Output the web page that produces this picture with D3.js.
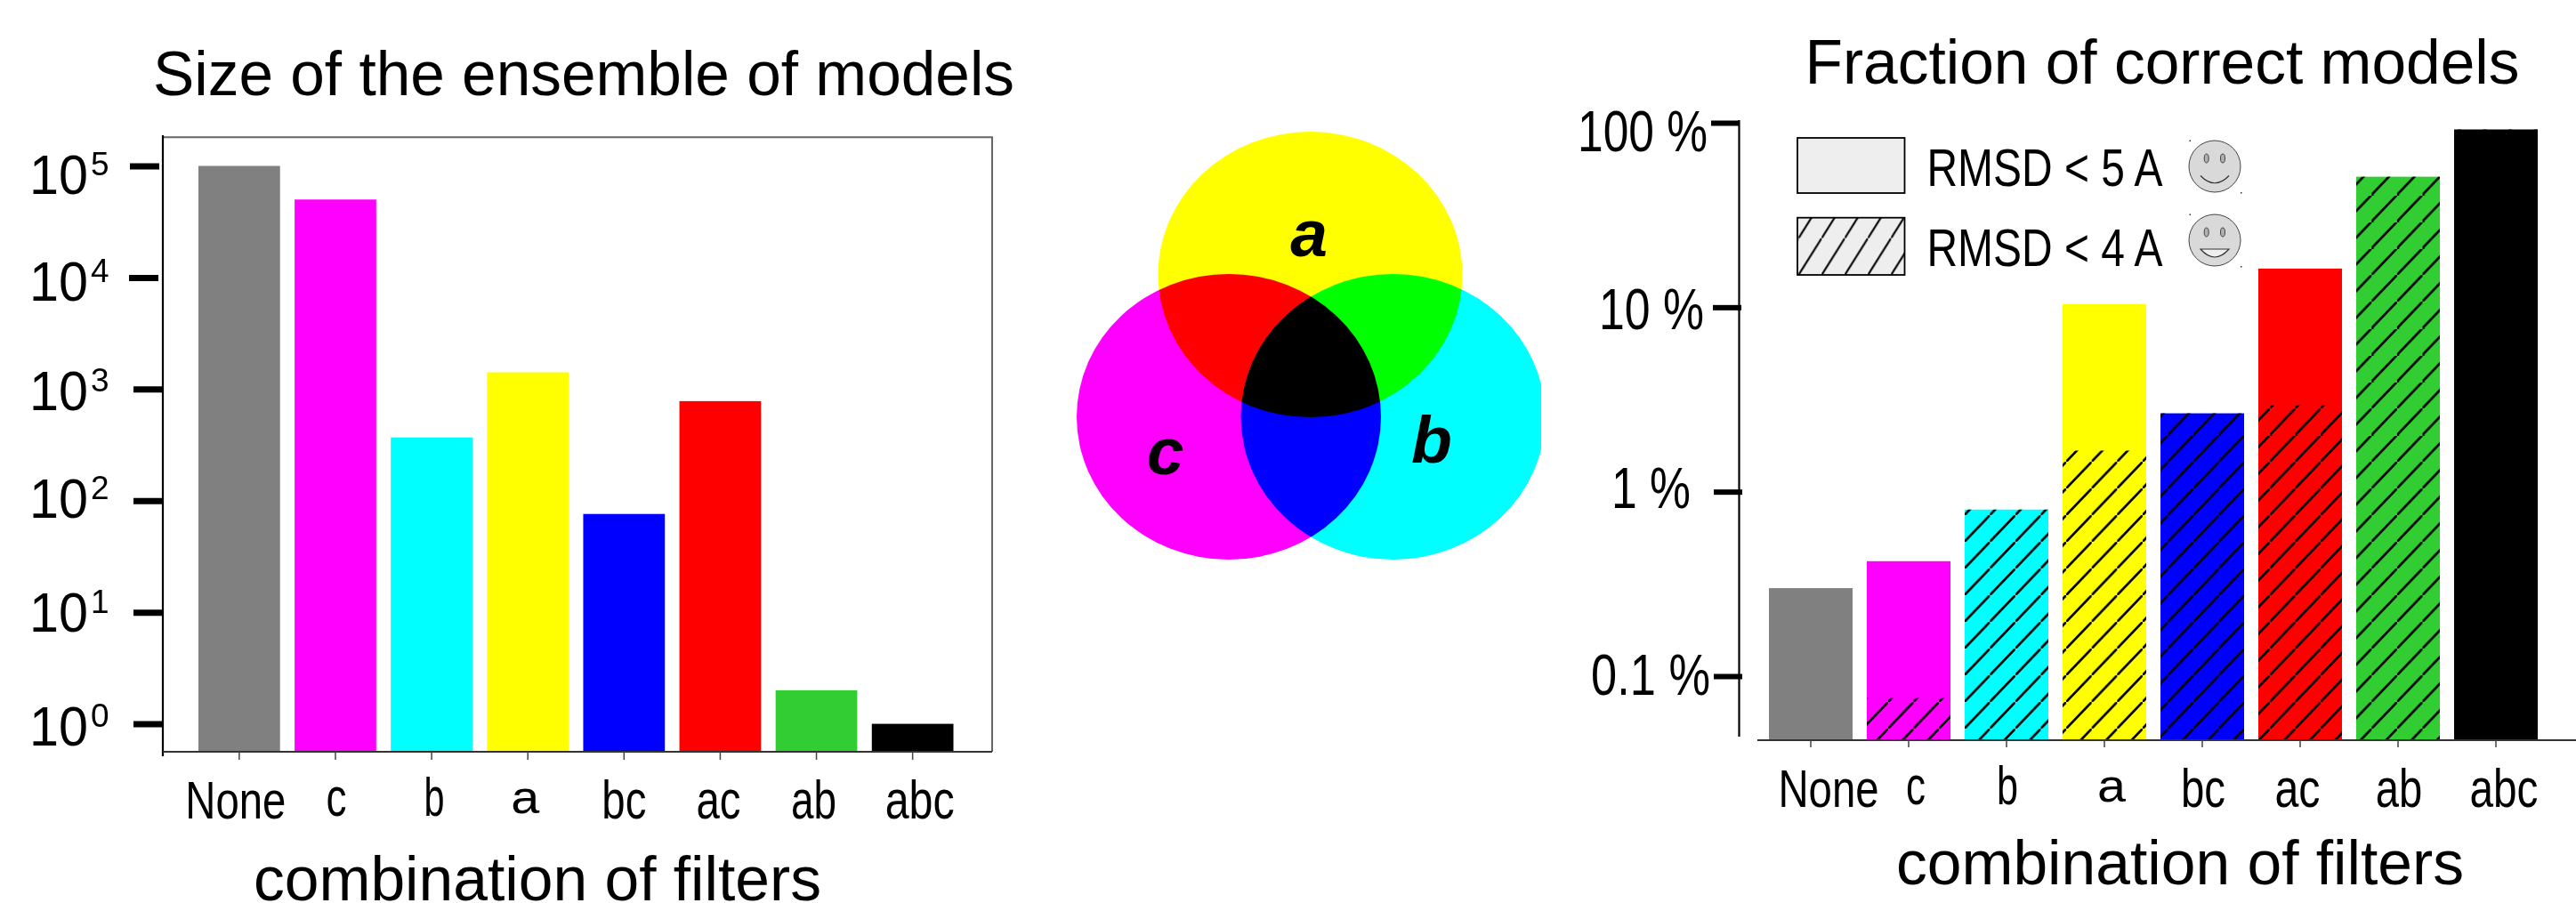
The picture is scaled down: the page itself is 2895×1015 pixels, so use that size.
<!DOCTYPE html>
<html><head><meta charset="utf-8">
<script src="https://cdn.jsdelivr.net/npm/d3@7"></script>
<style>html,body{margin:0;padding:0;background:#fff}svg{display:block}text{font-family:"Liberation Sans",Arial,sans-serif;fill:#000}</style>
</head><body><svg id="c" width="2895" height="1015"></svg>
<script>
const categories = ["None","c","b","a","bc","ac","ab","abc"];
const barColors = ["#808080","#ff00ff","#00ffff","#ffff00","#0000ff","#ff0000","#32cd32","#000000"];
const ensembleSize = [100000,50000,369,1413,76,780,2,1];
const fractionRmsd5 = [0.30,0.42,0.80,10.4,2.66,16.2,51,92];
const fractionRmsd4 = [null,0.076,0.80,1.67,2.66,2.94,51,92];
const sizeTicks = [1,10,100,1000,10000,100000];
const fractionTicks = [0.1,1,10,100];
const fractionTickLabels = ["0.1 %","1 %","10 %","100 %"];
const vennSets = ["a","c","b"];
const vennColors = ["#ffff00","#ff00ff","#00ffff"];
const legendLabels = ["RMSD < 5 A","RMSD < 4 A"];

const svg = d3.select("#c");
const defs = svg.append("defs");
function hatch(id,x0,y0,w,h,sw,bg){
  const p = defs.append("pattern").attr("id",id).attr("patternUnits","userSpaceOnUse")
    .attr("x",x0).attr("y",y0).attr("width",w).attr("height",h);
  if(bg) p.append("rect").attr("width",w).attr("height",h).attr("fill",bg);
  p.append("path").attr("d",`M${-w},${2*h}L${2*w},${-h}`).attr("stroke","#000").attr("stroke-width",sw).attr("fill","none");
}
hatch("barHatch",2207.7,579,28.6,30,2.6);
hatch("legendHatch",2021.3,267.7,26,41.3,2.2,"#eeeeee");

function label(g,t,cx,y,w,size,anchor){
  return g.append("text").attr("x",cx).attr("y",y).attr("text-anchor",anchor||"middle")
    .attr("font-size",size).attr("textLength",w).attr("lengthAdjust","spacingAndGlyphs").text(t);
}

/* ---------- left chart ---------- */
const L = svg.append("g");
const xL = d3.scaleBand().domain(categories).range([223,1071.5]).paddingInner(0.1516).paddingOuter(0);
const yL = d3.scaleLog().domain([1,100000]).range([813.6,186.5]);
const bottomL = 845;
label(L,"Size of the ensemble of models",656,107,968,70);
L.append("path").attr("d",`M183,154.3H1115V${bottomL}`).attr("fill","none").attr("stroke","#666").attr("stroke-width",2);
L.selectAll("rect.bar").data(categories).join("rect").attr("class","bar")
  .attr("x",d=>xL(d)).attr("width",xL.bandwidth())
  .attr("y",(d,i)=>yL(ensembleSize[i])).attr("height",(d,i)=>bottomL-yL(ensembleSize[i]))
  .attr("fill",(d,i)=>barColors[i]);
L.append("line").attr("x1",183).attr("x2",183).attr("y1",152).attr("y2",850).attr("stroke","#000").attr("stroke-width",2.2);
L.append("line").attr("x1",183).attr("x2",1115).attr("y1",bottomL).attr("y2",bottomL).attr("stroke","#333").attr("stroke-width",2);
const axYL = L.append("g").attr("transform","translate(183,0)")
  .call(d3.axisLeft(yL).tickValues(sizeTicks).tickSize(33).tickFormat(""));
axYL.select(".domain").remove();
const tickEndL = [0,0,0,0,-5,-4];
axYL.selectAll(".tick line").attr("stroke","#000").attr("stroke-width",7)
  .attr("x1",(d,i)=>tickEndL[i]).attr("x2",(d,i)=>tickEndL[i]-33);
const axXL = L.append("g").attr("transform",`translate(0,${bottomL})`)
  .call(d3.axisBottom(xL).tickSize(9).tickFormat(""));
axXL.select(".domain").remove();
axXL.selectAll(".tick line").attr("stroke","#444").attr("stroke-width",1.5);
const sizeLabelDy = [24.4,22,19.3,23.7,26.4,31.8];
sizeTicks.forEach((v,i)=>{
  const t = L.append("text").attr("x",33).attr("y",yL(v)+sizeLabelDy[i]).attr("font-size",63);
  t.append("tspan").attr("textLength",66).attr("lengthAdjust","spacingAndGlyphs").text("10");
  t.append("tspan").attr("dx",3).attr("dy",-21.5).attr("font-size",37).text(Math.round(Math.log10(v)));
});
const nudgeL = [-4,1,3,-3,0,-2,-3,8];
const widthL = [113,23,23,32,50,50,51,78];
const baseL = [919.5,916.5,916.5,914,920,920,920,920];
const sizeXL = [60,62,62,52,62,62,62,62];
categories.forEach((c,i)=>label(L,c,xL(c)+xL.bandwidth()/2+nudgeL[i],baseL[i],widthL[i],sizeXL[i]));
label(L,"combination of filters",604,1012,638,70);

/* ---------- venn ---------- */
const V = svg.append("g").style("isolation","isolate");
const vennClip = defs.append("clipPath").attr("id","vennClip");
vennClip.append("rect").attr("x",1180).attr("y",120).attr("width",552).attr("height",530);
const vennX = d3.scalePoint().domain(["c","a","b"]).range([1381,1565.5]);
const vennY = d3.scalePoint().domain(["a","c"]).range([308.6,468.5]);
V.append("g").attr("clip-path","url(#vennClip)").selectAll("ellipse").data(vennSets).join("ellipse")
  .attr("cx",d=>vennX(d)-(d==="a"?0.7:0))
  .attr("cy",d=>d==="a"?vennY("a"):vennY("c"))
  .attr("rx",171).attr("ry",160.5)
  .attr("fill",(d,i)=>vennColors[i])
  .style("mix-blend-mode","multiply");
const vennTextPos = {a:[1471,288],b:[1609,519.5],c:[1309.5,533]};
vennSets.forEach(s=>{
  svg.append("text").attr("x",vennTextPos[s][0]).attr("y",vennTextPos[s][1]).attr("text-anchor","middle")
    .attr("font-size",75).attr("font-weight","bold").attr("font-style","italic").text(s);
});

/* ---------- right chart ---------- */
const R = svg.append("g");
const xR = d3.scaleBand().domain(categories).range([1988,2852]).paddingInner(0.1455).paddingOuter(0);
const yR = d3.scaleLog().domain([0.1,100]).range([760,138]);
const bottomR = 832;
label(R,"Fraction of correct models",2430,94,803,70);
R.selectAll("rect.bar").data(categories).join("rect").attr("class","bar")
  .attr("x",d=>xR(d)).attr("width",xR.bandwidth())
  .attr("y",(d,i)=>yR(fractionRmsd5[i])).attr("height",(d,i)=>bottomR-yR(fractionRmsd5[i]))
  .attr("fill",(d,i)=>barColors[i]);
R.selectAll("rect.hatch").data(categories.filter((d,i)=>fractionRmsd4[i]!==null)).join("rect").attr("class","hatch")
  .attr("x",d=>xR(d)).attr("width",xR.bandwidth())
  .attr("y",d=>yR(fractionRmsd4[categories.indexOf(d)]))
  .attr("height",d=>bottomR-yR(fractionRmsd4[categories.indexOf(d)]))
  .attr("fill","url(#barHatch)");
R.append("line").attr("x1",1954.5).attr("x2",1954.5).attr("y1",135).attr("y2",828).attr("stroke","#000").attr("stroke-width",2.2);
R.append("line").attr("x1",1975).attr("x2",2895).attr("y1",bottomR).attr("y2",bottomR).attr("stroke","#333").attr("stroke-width",2);
const axYR = R.append("g").attr("transform","translate(1957,0)")
  .call(d3.axisLeft(yR).tickValues(fractionTicks).tickSize(31).tickFormat(""));
axYR.select(".domain").remove();
const tickEndR = [1,1,0,-2];
axYR.selectAll(".tick line").attr("stroke","#000").attr("stroke-width",6)
  .attr("x1",(d,i)=>tickEndR[i]).attr("x2",(d,i)=>tickEndR[i]-32);
const fracLabelRight = [1922,1900,1915,1919];
const fracLabelWidth = [134,89,118,146];
const fracLabelDy = [21,18.6,25,32];
fractionTicks.forEach((v,i)=>{
  label(R,fractionTickLabels[i],fracLabelRight[i],yR(v)+fracLabelDy[i],fracLabelWidth[i],64,"end");
});
const axXR = R.append("g").attr("transform",`translate(0,${bottomR})`)
  .call(d3.axisBottom(xR).tickSize(8).tickFormat(""));
axXR.select(".domain").remove();
axXR.selectAll(".tick line").attr("stroke","#444").attr("stroke-width",1.5);
const nudgeR = [20,8,1,8,1,-3,1,9];
const widthR = [113,22,24,32,50,51,52.5,77];
const baseR = [906.5,903.5,903.5,901,907,907,907,907];
categories.forEach((c,i)=>label(R,c,xR(c)+xR.bandwidth()/2+nudgeR[i],baseR[i],widthR[i],sizeXL[i]));
label(R,"combination of filters",2450,994,638,70);

/* ---------- legend ---------- */
const legendY = d3.scalePoint().domain(legendLabels).range([155,244.7]);
const legendH = [62,64.3];
legendLabels.forEach((t,i)=>{
  const y0 = legendY(t);
  R.append("rect").attr("x",2020).attr("y",y0).attr("width",120.5).attr("height",legendH[i])
    .attr("fill",i?"url(#legendHatch)":"#eeeeee").attr("stroke","#000").attr("stroke-width",1.8);
  label(R,t,2165.5,y0+(i?54.6:54),265,60,"start");
  const cy = y0+(i?25.3:32);
  const f = R.append("g").attr("transform",`translate(2489,${cy})`);
  f.append("circle").attr("r",29).attr("fill","#d9d9d9").attr("stroke","#444").attr("stroke-width",1);
  [-9.3,9].forEach(dx=>f.append("ellipse").attr("cx",dx).attr("cy",-9).attr("rx",2.5).attr("ry",5)
    .attr("fill","#b0b0b0").attr("stroke","#444").attr("stroke-width",1));
  f.append("path").attr("d",i?"M-16,10Q0,28 16,10Z":"M-16,10.5Q0,27 16,10.5")
    .attr("fill",i?"#eeeeee":"none").attr("stroke","#333").attr("stroke-width",1.2);
  [[-28.5,-29.5],[29,29]].forEach(p=>f.append("rect").attr("x",p[0]).attr("y",p[1]).attr("width",1.5).attr("height",1.5).attr("fill","#333"));
});
</script></body></html>
